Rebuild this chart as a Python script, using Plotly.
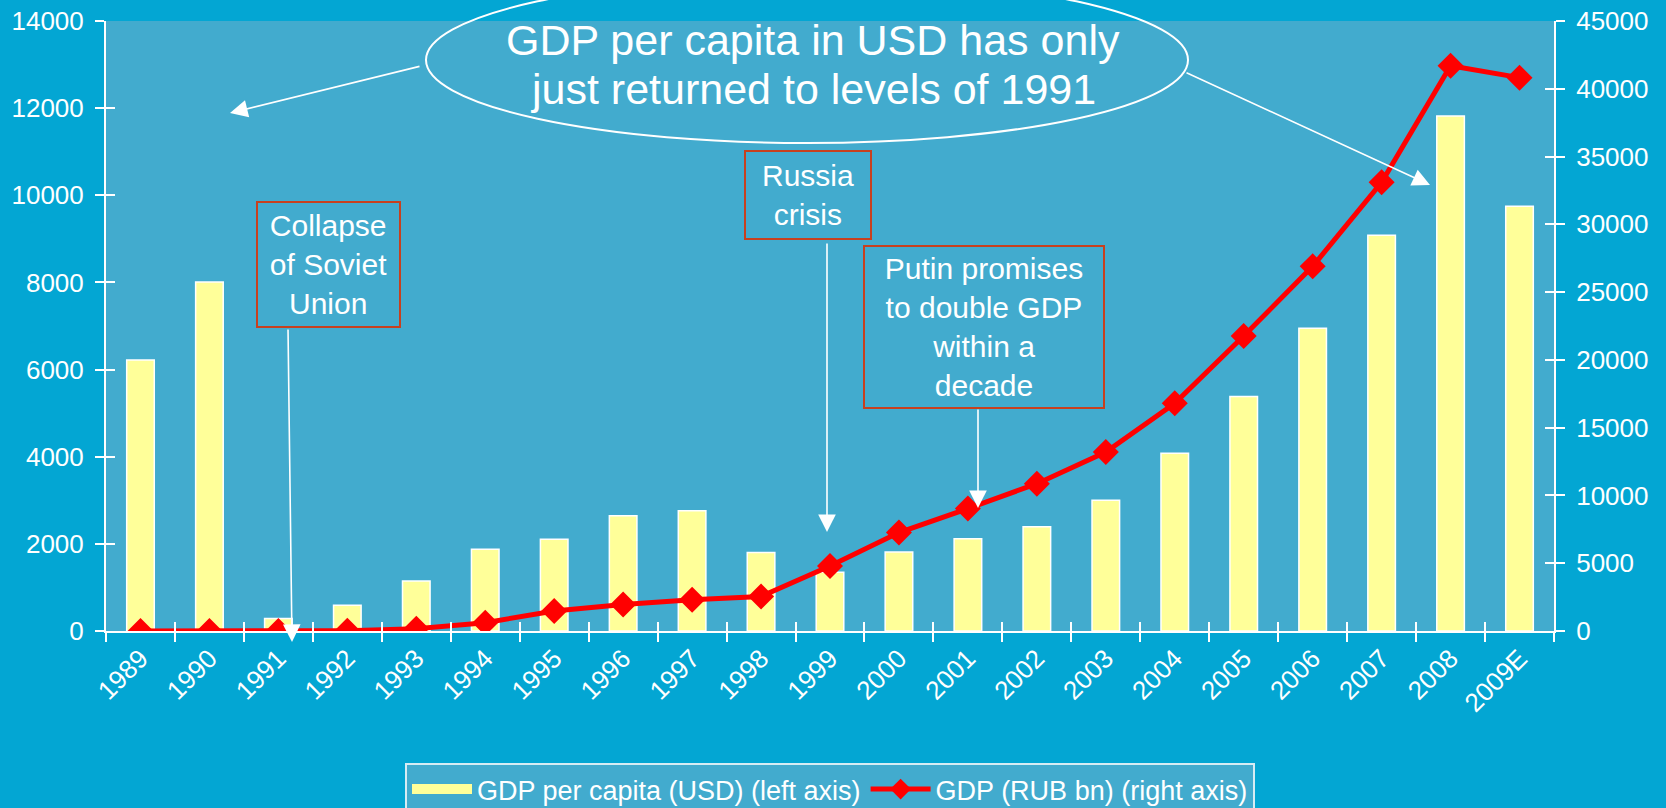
import plotly.graph_objects as go

# ---------------- data ----------------
years = ["1989", "1990", "1991", "1992", "1993", "1994", "1995", "1996", "1997",
         "1998", "1999", "2000", "2001", "2002", "2003", "2004", "2005", "2006",
         "2007", "2008", "2009E"]
gdp_per_capita_usd = [6220, 8010, 285, 590, 1150, 1875, 2105, 2645, 2760, 1800,
                      1350, 1815, 2120, 2390, 3000, 4080, 5380, 6950, 9080, 11820, 9750]
gdp_rub_bn = [1, 1, 2, 19, 172, 611, 1480, 1950, 2300, 2550, 4800, 7260, 9030,
              10870, 13200, 16800, 21760, 26900, 33100, 41700, 40820]

left_ticks = [0, 2000, 4000, 6000, 8000, 10000, 12000, 14000]
right_ticks = [0, 5000, 10000, 15000, 20000, 25000, 30000, 35000, 40000, 45000]

bar_name = "GDP per capita (USD) (left axis)"
line_name = "GDP (RUB bn) (right axis)"
headline = ["GDP per capita in USD has only", "just returned to levels of 1991"]

# ---------------- style ----------------
OUTER = "#03A6D3"
PLOT = "#42ABCE"
YELLOW = "#FFFF99"
RED = "#FF0000"
BOXRED = "#C8401E"
FONT = "Liberation Sans, Arial, sans-serif"
W, H = 1666, 808
L, R, T, B = 106, 112, 21, 177
PW, PH = W - L - R, H - T - B


def px(x):
    return (x - L) / PW


def py(y):
    return (H - B - y) / PH


fig = go.Figure()

fig.add_trace(go.Bar(
    x=years, y=gdp_per_capita_usd, name=bar_name, showlegend=False,
    marker=dict(color=YELLOW, line=dict(color="white", width=1.5)),
    xaxis="x", yaxis="y", hoverinfo="skip"))

# legend proxy for the bars (wide yellow swatch)
fig.add_trace(go.Scatter(
    x=years, y=[None] * len(years), name=bar_name, mode="lines",
    line=dict(color=YELLOW, width=16), xaxis="x", yaxis="y", hoverinfo="skip"))

fig.add_trace(go.Scatter(
    x=years, y=gdp_rub_bn, name=line_name, mode="lines+markers",
    line=dict(color=RED, width=5),
    marker=dict(symbol="diamond", size=20, color=RED),
    xaxis="x", yaxis="y2", hoverinfo="skip"))

# invisible traces carrying the inner half of the cross tick marks
fig.add_trace(go.Scatter(x=years, y=gdp_per_capita_usd, mode="markers",
                         marker=dict(opacity=0), showlegend=False,
                         xaxis="x2", yaxis="y3", hoverinfo="skip"))
fig.add_trace(go.Scatter(x=years, y=gdp_rub_bn, mode="markers",
                         marker=dict(opacity=0), showlegend=False,
                         xaxis="x2", yaxis="y4", hoverinfo="skip"))

axis_common = dict(showline=True, linecolor="white", linewidth=2,
                   tickcolor="white", tickwidth=2, ticklen=9,
                   showgrid=False, zeroline=False, automargin=False)
inner_common = dict(showticklabels=False, showline=False, tickcolor="white",
                    tickwidth=2, ticklen=9, showgrid=False, zeroline=False,
                    automargin=False, ticks="inside")

fig.update_layout(
    width=W, height=H, autosize=False,
    margin=dict(l=L, r=R, t=T, b=B, pad=0, autoexpand=False),
    paper_bgcolor=OUTER, plot_bgcolor=PLOT,
    font=dict(family=FONT, color="white", size=26),
    bargap=0.6,
    showlegend=True,
    xaxis=dict(type="category", range=[-0.5, len(years) - 0.5], ticks="outside",
               tickson="boundaries", tickangle=-45,
               tickfont=dict(size=26, color="white"), **axis_common),
    xaxis2=dict(type="category", range=[-0.5, len(years) - 0.5], overlaying="x",
                anchor="y3", tickson="boundaries", **inner_common),
    yaxis=dict(range=[0, 14000], tickvals=left_ticks, tickformat="d",
               ticks="outside", ticklabelstandoff=6,
               tickfont=dict(size=26, color="white"), **axis_common),
    yaxis2=dict(range=[0, 45000], tickvals=right_ticks, tickformat="d",
                overlaying="y", side="right", anchor="x", ticks="outside",
                ticklabelstandoff=6, tickfont=dict(size=26, color="white"),
                **axis_common),
    yaxis3=dict(range=[0, 14000], tickvals=left_ticks, overlaying="y",
                side="left", anchor="x2", **inner_common),
    yaxis4=dict(range=[0, 45000], tickvals=right_ticks, overlaying="y",
                side="right", anchor="x2", **inner_common),
    legend=dict(orientation="h", x=0.5, xanchor="center", y=py(763),
                yanchor="top", bgcolor=PLOT, bordercolor="#D6ECF4",
                borderwidth=2, font=dict(size=27, color="white", family=FONT),
                itemwidth=60, traceorder="normal"),
)

# ellipse callout
fig.add_shape(type="circle", xref="paper", yref="paper",
              x0=px(426), x1=px(1188), y0=py(143), y1=py(-23),
              line=dict(color="white", width=2), fillcolor="rgba(0,0,0,0)")

for line_text, cy in zip(headline, (40, 89)):
    fig.add_annotation(xref="paper", yref="paper", x=px(813), y=py(cy),
                       text=line_text, showarrow=False,
                       font=dict(size=43, color="white", family=FONT),
                       xanchor="center", yanchor="middle")


def arrow(tail, tip):
    fig.add_annotation(xref="paper", yref="paper", x=px(tip[0]), y=py(tip[1]),
                       ax=tail[0] - tip[0], ay=tail[1] - tip[1], text="",
                       showarrow=True, arrowhead=2, arrowsize=2.2,
                       arrowwidth=1.6, arrowcolor="white", standoff=0,
                       startstandoff=0)


def box(cx, cy, w, h, text):
    fig.add_annotation(xref="paper", yref="paper", x=px(cx), y=py(cy),
                       text=text, showarrow=False, xanchor="center",
                       yanchor="middle", width=w, height=h, borderpad=0,
                       bordercolor=BOXRED, borderwidth=2, align="center",
                       font=dict(size=30, color="white", family=FONT))


arrow((421, 66), (230, 113))
arrow((1185, 72), (1430, 185))
arrow((288, 328), (292, 642))
arrow((827, 242), (827, 532))
arrow((978, 408), (978, 508))

box(328.5, 264.5, 141, 123, "Collapse<br>of Soviet<br>Union")
box(808, 195, 124, 86, "Russia<br>crisis")
box(984, 327, 238, 160, "Putin promises<br>to double GDP<br>within a<br>decade")

fig.write_html("out.html", config={"displayModeBar": False})
